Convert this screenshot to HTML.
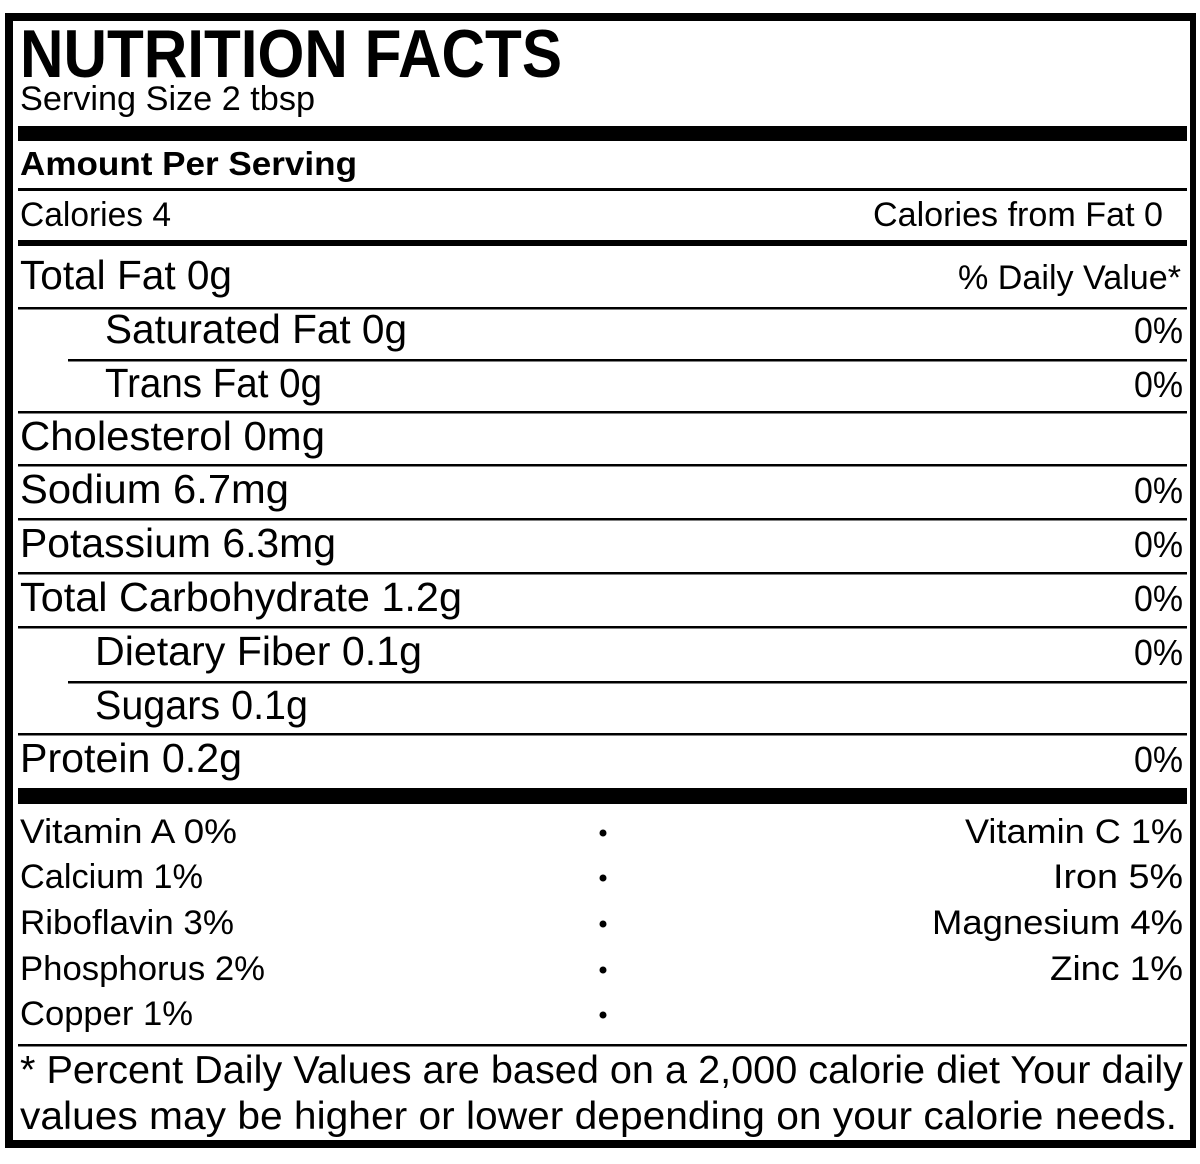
<!DOCTYPE html>
<html><head><meta charset="utf-8"><style>html,body{margin:0;padding:0;background:#fff}svg{display:block}</style></head>
<body>
<svg width="1200" height="1164" viewBox="0 0 1200 1164" xmlns="http://www.w3.org/2000/svg" font-family="Liberation Sans, sans-serif" fill="#000">
<rect x="0" y="0" width="1200" height="1164" fill="#fff"/>
<rect x="5" y="13" width="1191" height="1135" fill="#000"/>
<rect x="13" y="21" width="1177" height="1119" fill="#fff"/>
<rect x="18" y="126" width="1169" height="15"/>
<rect x="18" y="188" width="1169" height="3"/>
<rect x="18" y="240" width="1169" height="6"/>
<rect x="18" y="307" width="1169" height="2.5"/>
<rect x="68" y="359" width="1119" height="2.5"/>
<rect x="18" y="411" width="1169" height="2.5"/>
<rect x="18" y="464" width="1169" height="2.5"/>
<rect x="18" y="518" width="1169" height="2.5"/>
<rect x="18" y="572" width="1169" height="2.5"/>
<rect x="18" y="626" width="1169" height="2.5"/>
<rect x="68" y="681" width="1119" height="2.5"/>
<rect x="18" y="733" width="1169" height="2.5"/>
<rect x="18" y="788" width="1169" height="16"/>
<rect x="18" y="1044" width="1169" height="2.5"/>
<text x="20" y="77" font-size="68" font-weight="bold" textLength="542" lengthAdjust="spacingAndGlyphs">NUTRITION FACTS</text>
<text x="20" y="110" font-size="34" textLength="295" lengthAdjust="spacingAndGlyphs">Serving Size 2 tbsp</text>
<text x="20" y="175" font-size="33" font-weight="bold" textLength="337" lengthAdjust="spacingAndGlyphs">Amount Per Serving</text>
<text x="20" y="226" font-size="34" textLength="151" lengthAdjust="spacingAndGlyphs">Calories 4</text>
<text x="873" y="226" font-size="34" textLength="290" lengthAdjust="spacingAndGlyphs">Calories from Fat 0</text>
<text x="20" y="289" font-size="41" textLength="212" lengthAdjust="spacingAndGlyphs">Total Fat 0g</text>
<text x="958" y="289" font-size="34" textLength="223" lengthAdjust="spacingAndGlyphs">% Daily Value*</text>
<text x="105" y="343" font-size="41" textLength="302" lengthAdjust="spacingAndGlyphs">Saturated Fat 0g</text>
<text x="105" y="397" font-size="41" textLength="217" lengthAdjust="spacingAndGlyphs">Trans Fat 0g</text>
<text x="20" y="450" font-size="41" textLength="305" lengthAdjust="spacingAndGlyphs">Cholesterol 0mg</text>
<text x="20" y="503" font-size="41" textLength="269" lengthAdjust="spacingAndGlyphs">Sodium 6.7mg</text>
<text x="20" y="557" font-size="41" textLength="316" lengthAdjust="spacingAndGlyphs">Potassium 6.3mg</text>
<text x="20" y="611" font-size="41" textLength="442" lengthAdjust="spacingAndGlyphs">Total Carbohydrate 1.2g</text>
<text x="95" y="665" font-size="41" textLength="327" lengthAdjust="spacingAndGlyphs">Dietary Fiber 0.1g</text>
<text x="95" y="719" font-size="41" textLength="213" lengthAdjust="spacingAndGlyphs">Sugars 0.1g</text>
<text x="20" y="772" font-size="41" textLength="222" lengthAdjust="spacingAndGlyphs">Protein 0.2g</text>
<g font-size="36">
<text x="1134" y="343" textLength="49" lengthAdjust="spacingAndGlyphs">0%</text>
<text x="1134" y="397" textLength="49" lengthAdjust="spacingAndGlyphs">0%</text>
<text x="1134" y="503" textLength="49" lengthAdjust="spacingAndGlyphs">0%</text>
<text x="1134" y="557" textLength="49" lengthAdjust="spacingAndGlyphs">0%</text>
<text x="1134" y="611" textLength="49" lengthAdjust="spacingAndGlyphs">0%</text>
<text x="1134" y="665" textLength="49" lengthAdjust="spacingAndGlyphs">0%</text>
<text x="1134" y="772" textLength="49" lengthAdjust="spacingAndGlyphs">0%</text>
</g>
<text x="20" y="843" font-size="34" textLength="217" lengthAdjust="spacingAndGlyphs">Vitamin A  0%</text>
<text x="20" y="888" font-size="34" textLength="183" lengthAdjust="spacingAndGlyphs">Calcium 1%</text>
<text x="20" y="934" font-size="34" textLength="214" lengthAdjust="spacingAndGlyphs">Riboflavin 3%</text>
<text x="20" y="980" font-size="34" textLength="245" lengthAdjust="spacingAndGlyphs">Phosphorus 2%</text>
<text x="20" y="1025" font-size="34" textLength="173" lengthAdjust="spacingAndGlyphs">Copper 1%</text>
<text x="965" y="843" font-size="34" textLength="218" lengthAdjust="spacingAndGlyphs">Vitamin C  1%</text>
<text x="1053" y="888" font-size="34" textLength="130" lengthAdjust="spacingAndGlyphs">Iron  5%</text>
<text x="932" y="934" font-size="34" textLength="251" lengthAdjust="spacingAndGlyphs">Magnesium  4%</text>
<text x="1050" y="980" font-size="34" textLength="133" lengthAdjust="spacingAndGlyphs">Zinc  1%</text>
<circle cx="603" cy="833" r="3.5"/>
<circle cx="603" cy="878" r="3.5"/>
<circle cx="603" cy="924" r="3.5"/>
<circle cx="603" cy="970" r="3.5"/>
<circle cx="603" cy="1015" r="3.5"/>
<text x="20" y="1083" font-size="39" textLength="1163" lengthAdjust="spacingAndGlyphs">* Percent Daily Values are based on a 2,000 calorie diet Your daily</text>
<text x="20" y="1129" font-size="39" textLength="1157" lengthAdjust="spacingAndGlyphs">values may be higher or lower depending on your calorie needs.</text>
</svg>
</body></html>
